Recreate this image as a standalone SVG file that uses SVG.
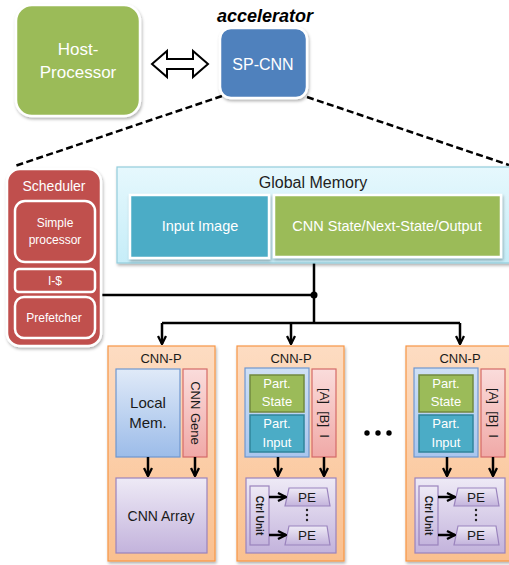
<svg xmlns="http://www.w3.org/2000/svg" width="509" height="565" viewBox="0 0 509 565">
<defs>
<style>
text{font-family:"Liberation Sans",Arial,sans-serif;text-anchor:middle}
.w{fill:#fff}
.d{fill:#1a1a1a}
.conn{stroke:#000;stroke-width:2.5;fill:none}
.dash{stroke:#000;stroke-width:2.5;fill:none;stroke-dasharray:7 3.5}
.cnnp{fill:url(#gOr);stroke:#F79646;stroke-width:1.2}
.lm{fill:url(#gBl);stroke:#6F97CF;stroke-width:1.2}
.pk{fill:url(#gPk);stroke:#D46A68;stroke-width:1.2}
.pu{fill:url(#gPu);stroke:#9A83BD;stroke-width:1.2}
.ps{fill:#9BBB59;stroke:#71893F;stroke-width:1.5}
.pi{fill:#4BACC6;stroke:#31849B;stroke-width:1.5}
</style>
<linearGradient id="gOr" x1="0" y1="0" x2="0" y2="1"><stop offset="0" stop-color="#FDDCC2"/><stop offset="1" stop-color="#FAC08F"/></linearGradient>
<linearGradient id="gBl" x1="0" y1="0" x2="0" y2="1"><stop offset="0" stop-color="#E0EAF8"/><stop offset="1" stop-color="#9CBCE9"/></linearGradient>
<linearGradient id="gPk" x1="0" y1="0" x2="0" y2="1"><stop offset="0" stop-color="#FADCDB"/><stop offset="1" stop-color="#F0A9A7"/></linearGradient>
<linearGradient id="gPu" x1="0" y1="0" x2="0" y2="1"><stop offset="0" stop-color="#EEEAF6"/><stop offset="1" stop-color="#C3B3DC"/></linearGradient>
<linearGradient id="gGm" x1="0" y1="0" x2="0" y2="1"><stop offset="0" stop-color="#E6F8FD"/><stop offset="1" stop-color="#C6EDF8"/></linearGradient>
<linearGradient id="gIc" x1="0" y1="0" x2="0" y2="1"><stop offset="0" stop-color="#CFE0F5"/><stop offset="1" stop-color="#A9C6EE"/></linearGradient>
<filter id="sh" x="-10%" y="-10%" width="130%" height="130%"><feDropShadow dx="1" dy="2" stdDeviation="1.5" flood-color="#000" flood-opacity="0.3"/></filter>
<marker id="ah" viewBox="0 0 10 10" refX="9" refY="5" markerWidth="10" markerHeight="10" markerUnits="userSpaceOnUse" orient="auto"><path d="M1,1 L9,5 L1,9" fill="none" stroke="#000" stroke-width="2.3"/></marker>
</defs>
<rect width="509" height="565" fill="#fff"/>

<g id="connectors">
<path class="dash" d="M222,96 L15,166"/>
<path class="dash" d="M307,97 L509,165"/>
<path d="M152,64 L167,51 L167,59 L193,59 L193,51 L208,64 L193,77 L193,69 L167,69 L167,77 Z" fill="#fff" stroke="#000" stroke-width="2"/>
<path class="conn" d="M314,263 L314,323"/>
<path class="conn" d="M101,295 L314,295"/>
<circle cx="314" cy="295" r="3.5" fill="#000"/>
<path class="conn" d="M162,323 L460,323"/>
<path class="conn" d="M162,323 L162,344" marker-end="url(#ah)"/>
<path class="conn" d="M291,323 L291,344" marker-end="url(#ah)"/>
<path class="conn" d="M460,323 L460,344" marker-end="url(#ah)"/>
</g>

<g id="host">
<rect x="16" y="5" width="124" height="111" rx="16" fill="#9BBB59" stroke="#fff" stroke-width="2.5" filter="url(#sh)"/>
<text class="w" x="78" y="55" font-size="17">Host-</text>
<text class="w" x="78" y="78" font-size="17">Processor</text>
</g>

<g id="spcnn">
<text x="265" y="22" font-size="18" font-weight="bold" font-style="italic" fill="#000">accelerator</text>
<rect x="220" y="28" width="87" height="70" rx="11" fill="#4F81BD" stroke="#fff" stroke-width="2.5" filter="url(#sh)"/>
<text class="w" x="263" y="70" font-size="16">SP-CNN</text>
</g>

<g id="scheduler">
<rect x="7" y="169" width="94" height="177" rx="13" fill="#C0504D" stroke="#fff" stroke-width="2.5" filter="url(#sh)"/>
<text class="w" x="54" y="191" font-size="14">Scheduler</text>
<g id="simple-processor">
<rect x="15" y="201" width="80" height="61" rx="10" fill="#C0504D" stroke="#fff" stroke-width="2.5"/>
<text class="w" x="55" y="227" font-size="12">Simple</text>
<text class="w" x="55" y="244" font-size="12">processor</text>
</g>
<g id="icache">
<rect x="15" y="269" width="80" height="23" rx="4" fill="#C0504D" stroke="#fff" stroke-width="2.5"/>
<text class="w" x="55" y="285" font-size="12">I-$</text>
</g>
<g id="prefetcher">
<rect x="15" y="297" width="80" height="41" rx="9" fill="#C0504D" stroke="#fff" stroke-width="2.5"/>
<text class="w" x="54" y="322" font-size="12">Prefetcher</text>
</g>
</g>

<g id="global-memory">
<rect x="117" y="167" width="396" height="96" fill="url(#gGm)" stroke="#93CDDD" stroke-width="1.2" filter="url(#sh)"/>
<text x="313" y="188" font-size="16" fill="#222">Global Memory</text>
<g id="input-image">
<rect x="130" y="195" width="139" height="63" fill="#4BACC6" stroke="#fff" stroke-width="2.5" filter="url(#sh)"/>
<text class="w" x="200" y="231" font-size="14.5">Input Image</text>
</g>
<g id="cnn-state">
<rect x="274" y="195" width="227" height="62" fill="#9BBB59" stroke="#fff" stroke-width="2.5" filter="url(#sh)"/>
<text class="w" x="387" y="231" font-size="14.5">CNN State/Next-State/Output</text>
</g>
</g>

<g id="cnnp1">
<rect class="cnnp" x="108" y="346" width="107" height="215" filter="url(#sh)"/>
<text class="d" x="161" y="363" font-size="13">CNN-P</text>
<rect class="lm" x="116" y="369" width="64" height="88"/>
<text class="d" x="148" y="408" font-size="15">Local</text>
<text class="d" x="148" y="428" font-size="15">Mem.</text>
<rect class="pk" x="183" y="369" width="24" height="88"/>
<text class="d" font-size="13" transform="translate(195,413) rotate(90)" y="4.5">CNN Gene</text>
<path class="conn" d="M148,457 L148,476" marker-end="url(#ah)"/>
<path class="conn" d="M195,457 L195,476" marker-end="url(#ah)"/>
<rect class="pu" x="116" y="478" width="91" height="75"/>
<text class="d" x="161" y="521" font-size="14">CNN Array</text>
</g>

<g id="cnnp2">
<rect class="cnnp" x="237" y="346" width="107" height="215" filter="url(#sh)"/>
<text class="d" x="291" y="363" font-size="13">CNN-P</text>
<rect x="245" y="368" width="64" height="89" fill="url(#gIc)" stroke="#6F97CF" stroke-width="1.2"/>
<rect class="ps" x="250" y="375" width="54" height="37"/>
<text class="w" x="277" y="388" font-size="13">Part.</text>
<text class="w" x="277" y="406" font-size="13">State</text>
<rect class="pi" x="250" y="415" width="54" height="37"/>
<text class="w" x="277" y="428" font-size="13">Part.</text>
<text class="w" x="277" y="447" font-size="13">Input</text>
<rect class="pk" x="312" y="369" width="24" height="88"/>
<text class="d" font-size="13" transform="translate(324,413) rotate(90)" y="4.5" xml:space="preserve">[A]  [B]  I</text>
<path class="conn" d="M278,457 L278,476" marker-end="url(#ah)"/>
<path class="conn" d="M324,457 L324,476" marker-end="url(#ah)"/>
<rect class="pu" x="246" y="478" width="90" height="75"/>
<rect class="pu" x="250" y="486" width="19" height="59"/>
<text class="d" font-size="10" font-weight="bold" transform="translate(259.5,515.5) rotate(90)" y="3.5">Ctrl Unit</text>
<path class="pu" d="M289,488 L327,488 L330,506 L285,506 Z"/>
<text class="d" x="307" y="502" font-size="13.5">PE</text>
<path class="pu" d="M289,526 L327,526 L330,545 L285,545 Z"/>
<text class="d" x="307" y="540" font-size="13.5">PE</text>
<circle cx="307" cy="510" r="1.2" fill="#222"/><circle cx="307" cy="515" r="1.2" fill="#222"/><circle cx="307" cy="520" r="1.2" fill="#222"/>
<path class="conn" d="M269,497 L286,497" marker-end="url(#ah)"/>
<path class="conn" d="M269,535 L286,535" marker-end="url(#ah)"/>
</g>

<g id="ellipsis">
<circle cx="367" cy="433" r="2.7" fill="#000"/>
<circle cx="378" cy="433" r="2.7" fill="#000"/>
<circle cx="389" cy="433" r="2.7" fill="#000"/>
</g>

<g id="cnnp3">
<rect class="cnnp" x="406" y="346" width="107" height="215" filter="url(#sh)"/>
<text class="d" x="460" y="363" font-size="13">CNN-P</text>
<rect x="414" y="368" width="64" height="89" fill="url(#gIc)" stroke="#6F97CF" stroke-width="1.2"/>
<rect class="ps" x="419" y="375" width="54" height="37"/>
<text class="w" x="446" y="388" font-size="13">Part.</text>
<text class="w" x="446" y="406" font-size="13">State</text>
<rect class="pi" x="419" y="415" width="54" height="37"/>
<text class="w" x="446" y="428" font-size="13">Part.</text>
<text class="w" x="446" y="447" font-size="13">Input</text>
<rect class="pk" x="481" y="369" width="24" height="88"/>
<text class="d" font-size="13" transform="translate(493,413) rotate(90)" y="4.5" xml:space="preserve">[A]  [B]  I</text>
<path class="conn" d="M447,457 L447,476" marker-end="url(#ah)"/>
<path class="conn" d="M493,457 L493,476" marker-end="url(#ah)"/>
<rect class="pu" x="415" y="478" width="90" height="75"/>
<rect class="pu" x="419" y="486" width="19" height="59"/>
<text class="d" font-size="10" font-weight="bold" transform="translate(428.5,515.5) rotate(90)" y="3.5">Ctrl Unit</text>
<path class="pu" d="M458,488 L496,488 L499,506 L454,506 Z"/>
<text class="d" x="476" y="502" font-size="13.5">PE</text>
<path class="pu" d="M458,526 L496,526 L499,545 L454,545 Z"/>
<text class="d" x="476" y="540" font-size="13.5">PE</text>
<circle cx="476" cy="510" r="1.2" fill="#222"/><circle cx="476" cy="515" r="1.2" fill="#222"/><circle cx="476" cy="520" r="1.2" fill="#222"/>
<path class="conn" d="M438,497 L455,497" marker-end="url(#ah)"/>
<path class="conn" d="M438,535 L455,535" marker-end="url(#ah)"/>
</g>
</svg>
